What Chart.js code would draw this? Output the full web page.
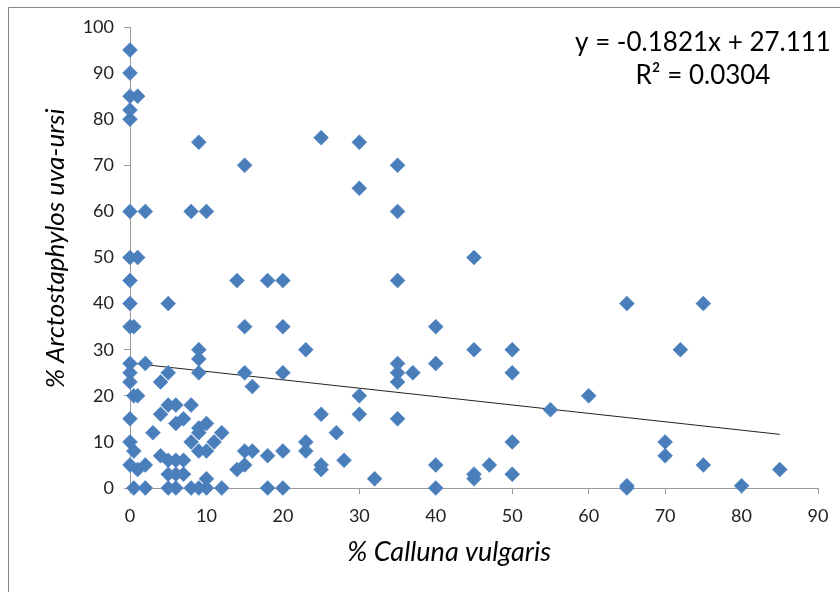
<!DOCTYPE html>
<html>
<head>
<meta charset="utf-8">
<script src="https://cdn.jsdelivr.net/npm/chart.js@4.4.0/dist/chart.umd.min.js"></script>
<style>
  html, body { margin: 0; padding: 0; background: #fff; }
  #wrap { width: 840px; height: 592px; position: relative; }
</style>
</head>
<body>
<div id="wrap"><canvas id="scatter" width="840" height="592"></canvas></div>
<script>
// % Calluna vulgaris (x) and % Arctostaphylos uva-ursi (y)
const calluna = [
  0,0,0,0,0,0,0,0,0,0,0,0,0,0,0,0,
  0.5,0.5,0.5,0.5,
  1,1,1,1,
  2,2,2,2,
  3,
  4,4,4,
  5,5,5,5,5,5,
  6,6,6,6,6,
  7,7,7,
  8,8,8,8,
  9,9,9,9,9,9,9,9,
  10,10,10,10,10,
  11,
  12,12,
  14,14,
  15,15,15,15,15,
  16,16,
  18,18,18,
  20,20,20,20,20,
  23,23,23,
  25,25,25,25,
  27,
  28,
  30,30,30,30,
  32,
  35,35,35,35,35,35,35,
  37,
  40,40,40,40,
  45,45,45,45,
  47,
  50,50,50,50,
  55,
  60,
  65,65,65,
  70,70,
  72,
  75,75,
  80,
  85
];
const arcto = [
  95,90,85,82,80,60,50,45,40,35,27,25,23,15,10,5,
  35,20,8,0,
  85,50,20,4,
  60,27,5,0,
  12,
  23,16,7,
  40,25,18,6,3,0,
  18,14,6,3,0,
  15,6,3,
  60,18,10,0,
  75,30,28,25,13,12,8,0,
  60,14,8,2,0,
  10,
  12,0,
  45,4,
  70,35,25,8,5,
  22,8,
  45,7,0,
  45,35,25,8,0,
  30,10,8,
  76,16,5,4,
  12,
  6,
  75,65,20,16,
  2,
  70,60,45,27,25,23,15,
  25,
  35,27,5,0,
  50,30,3,2,
  5,
  30,25,10,3,
  17,
  20,
  40,0.5,0,
  10,7,
  30,
  40,5,
  0.5,
  4
];

// linear trendline as given on the chart
const slope = -0.1821;
const intercept = 27.111;
const trendX = [0, 85];
const eqLines = ['y = -0.1821x + 27.111', 'R\u00b2 = 0.0304'];

const xTicks = [0,10,20,30,40,50,60,70,80,90];
const yTicks = [0,10,20,30,40,50,60,70,80,90,100];

const points = calluna.map((x, i) => ({ x: x, y: arcto[i] }));
const trend = trendX.map(x => ({ x: x, y: slope * x + intercept }));

const axisGray = '#9a9a9a';

const frame = {
  id: 'frame',
  beforeDraw(chart) {
    const c = chart.ctx;
    c.save();
    c.fillStyle = '#fff';
    c.fillRect(0, 0, chart.width, chart.height);
    c.strokeStyle = '#868686';
    c.lineWidth = 1;
    c.beginPath();
    c.moveTo(8.5, chart.height);
    c.lineTo(8.5, 7.5);
    c.lineTo(chart.width, 7.5);
    c.stroke();
    c.restore();
  },
  afterDraw(chart) {
    const c = chart.ctx;
    c.save();
    c.fillStyle = '#000';
    c.font = '26px Lato';
    c.textAlign = 'center';
    c.textBaseline = 'middle';
    const cx = chart.chartArea.right - 115;
    c.fillText(eqLines[0], cx, chart.chartArea.top + 16);
    c.fillText(eqLines[1], cx, chart.chartArea.top + 49);
    c.restore();
  }
};

new Chart(document.getElementById('scatter'), {
  type: 'scatter',
  data: {
    datasets: [
      {
        label: 'data',
        data: points,
        pointStyle: 'rectRot',
        pointRadius: 7.5,
        backgroundColor: '#4A7EBB',
        borderColor: '#4F85C4',
        borderWidth: 0.5,
        clip: false
      },
      {
        label: 'trend',
        type: 'line',
        data: trend,
        borderColor: '#222',
        borderWidth: 1,
        pointRadius: 0,
        fill: false
      }
    ]
  },
  options: {
    responsive: false,
    animation: false,
    devicePixelRatio: 1,
    layout: { padding: { left: 8, top: 27, right: 22, bottom: 0 } },
    plugins: {
      legend: { display: false },
      tooltip: { enabled: false }
    },
    scales: {
      x: {
        type: 'linear',
        min: 0,
        max: 90,
        afterBuildTicks(s) { s.ticks = xTicks.map(v => ({ value: v })); },
        afterFit(s) { s.height = 104; },
        grid: { drawOnChartArea: false, drawTicks: true, tickLength: 6, color: axisGray },
        border: { display: true, color: axisGray },
        ticks: { color: '#222', font: { family: 'Lato', size: 18 }, padding: 11 },
        title: {
          display: true,
          text: '% Calluna vulgaris\u2002\u2002\u2002\u2002',
          color: '#000',
          font: { family: 'Lato', size: 27, style: 'italic' },
          padding: { top: 0, bottom: 24 }
        }
      },
      y: {
        type: 'linear',
        min: 0,
        max: 100,
        afterBuildTicks(s) { s.ticks = yTicks.map(v => ({ value: v })); },
        afterFit(s) { s.width = 122; },
        grid: { drawOnChartArea: false, drawTicks: true, tickLength: 6, color: axisGray },
        border: { display: true, color: axisGray },
        ticks: { color: '#222', font: { family: 'Lato', size: 18 }, padding: 10 },
        title: {
          display: true,
          text: '\u2002 % Arctostaphylos uva-ursi',
          color: '#000',
          font: { family: 'Lato', size: 26, style: 'italic' },
          padding: { top: 32, bottom: 0 }
        }
      }
    }
  },
  plugins: [frame]
});
</script>
</body>
</html>
